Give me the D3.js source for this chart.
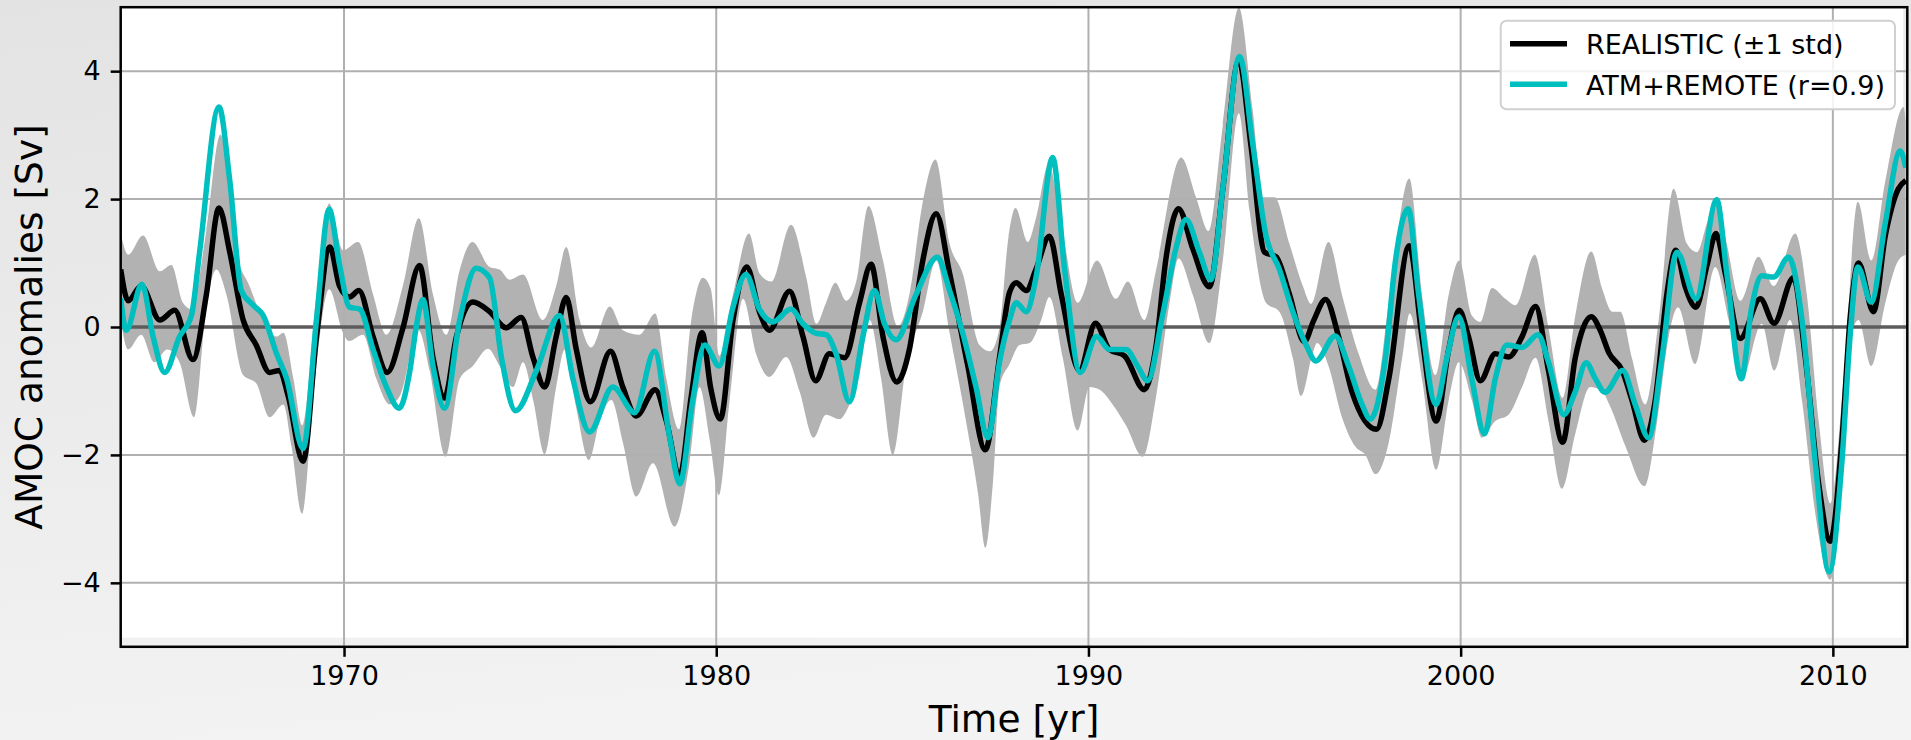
<!DOCTYPE html>
<html>
<head>
<meta charset="utf-8">
<script src="https://cdn.jsdelivr.net/npm/d3@7"></script>
<style>
  html, body { margin: 0; padding: 0; overflow: hidden; }
  svg { display: block; font-family: "DejaVu Sans", sans-serif; }
</style>
</head>
<body>
<svg id="chart" width="1911" height="740"></svg>
<script>
// ---------------- DATA ----------------
const xTicks = [1970, 1980, 1990, 2000, 2010];
const yTicks = [-4, -2, 0, 2, 4];
const seriesNames = ["REALISTIC (\u00b11 std)", "ATM+REMOTE (r=0.9)"];

// REALISTIC ensemble mean
const realTime = [1964.0,1964.2,1964.55,1965.05,1965.45,1965.94,1966.3,1966.64,1966.93,1967.29,1967.64,1968.0,1968.27,1968.5,1968.9,1969.26,1969.62,1969.88,1970.15,1970.4,1970.78,1971.16,1971.58,1972.03,1972.39,1972.7,1973.02,1973.46,1973.91,1974.36,1974.76,1975.08,1975.39,1975.7,1975.97,1976.24,1976.62,1977.16,1977.49,1977.85,1978.36,1978.66,1979.02,1979.33,1979.62,1979.85,1980.11,1980.45,1980.82,1981.16,1981.43,1981.97,1982.33,1982.67,1983.04,1983.45,1983.85,1984.16,1984.48,1984.85,1985.19,1985.55,1985.91,1986.27,1986.76,1987.23,1987.61,1987.88,1988.06,1988.33,1988.59,1988.95,1989.27,1989.76,1990.19,1990.56,1990.97,1991.5,1991.82,1992.09,1992.42,1992.8,1993.25,1993.61,1994.04,1994.37,1994.73,1995.04,1995.4,1995.8,1996.05,1996.37,1996.72,1997.08,1997.74,1998.07,1998.62,1998.96,1999.34,1999.68,1999.96,2000.21,2000.53,2000.93,2001.29,2001.65,2002.01,2002.36,2002.74,2003.08,2003.51,2003.75,2003.98,2004.34,2004.6,2004.94,2005.23,2005.54,2005.78,2006.03,2006.32,2006.62,2006.86,2007.11,2007.51,2008.05,2008.42,2008.94,2009.26,2009.62,2009.93,2010.24,2010.47,2010.69,2011.09,2011.41,2011.76,2011.96];
const realValue = [0.90,0.41,0.64,0.11,0.26,-0.51,0.5,1.86,1.17,0.11,-0.28,-0.71,-0.68,-1.08,-2.1,-0.15,1.25,0.64,0.47,0.57,-0.15,-0.71,-0.02,0.96,-0.48,-1.11,-0.15,0.39,0.24,-0.01,0.15,-0.48,-0.94,-0.15,0.46,-0.35,-1.17,-0.38,-0.94,-1.39,-0.98,-1.47,-2.33,-1.08,-0.09,-0.95,-1.44,0.11,0.94,0.24,-0.05,0.56,-0.15,-0.84,-0.42,-0.48,0.38,0.98,-0.15,-0.86,-0.35,1.04,1.77,0.84,-0.61,-1.92,-0.48,0.54,0.69,0.57,0.9,1.42,0.51,-0.68,0.06,-0.35,-0.45,-0.98,-0.28,1.1,1.85,1.23,0.63,2.16,4.17,2.82,1.17,1.1,0.51,-0.23,0.1,0.43,-0.15,-1.01,-1.6,-0.81,1.27,-0.15,-1.47,-0.35,0.26,-0.15,-0.84,-0.42,-0.47,-0.15,0.32,-0.68,-1.8,-0.48,0.16,-0.05,-0.4,-0.68,-1.14,-1.77,-1.14,0.51,1.2,0.64,0.31,0.97,1.46,0.84,-0.18,0.44,0.06,0.77,-0.48,-2.46,-3.35,-1.8,0.18,1.0,0.24,1.43,2.16,2.29];

// REALISTIC +1 std
const upperTime = [1964.0,1964.2,1964.6,1965.05,1965.36,1965.67,1965.9,1966.3,1966.68,1967.1,1967.46,1967.83,1968.19,1968.37,1968.64,1968.88,1969.26,1969.6,1969.97,1970.38,1970.78,1971.14,1971.58,1972.01,1972.39,1972.75,1973.11,1973.45,1973.91,1974.18,1974.45,1974.81,1975.34,1975.7,1975.97,1976.33,1976.64,1977.14,1977.49,1977.94,1978.36,1978.66,1979.0,1979.33,1979.64,1979.85,1980.08,1980.45,1980.88,1981.16,1981.48,1982.01,1982.42,1982.69,1982.95,1983.2,1983.49,1983.76,1984.09,1984.48,1984.88,1985.19,1985.55,1985.89,1986.27,1986.62,1987.07,1987.36,1987.61,1987.85,1988.04,1988.37,1988.59,1988.93,1989.27,1989.71,1990.23,1990.74,1991.06,1991.5,1991.82,1992.49,1992.89,1993.23,1993.61,1994.04,1994.41,1994.68,1995.0,1995.4,1995.76,1995.98,1996.45,1996.81,1997.26,1997.71,1998.07,1998.62,1998.96,1999.32,1999.68,1999.96,2000.3,2000.53,2000.84,2001.2,2001.47,2001.99,2002.36,2002.74,2003.08,2003.51,2003.8,2004.07,2004.29,2004.6,2004.96,2005.32,2005.72,2006.08,2006.35,2006.62,2006.86,2007.15,2007.51,2008.0,2008.41,2008.99,2009.3,2009.62,2009.93,2010.29,2010.67,2011.03,2011.41,2011.9,2011.96];
const upperValue = [1.46,1.13,1.43,0.87,0.97,0.38,0.28,1.5,3.01,1.17,0.64,0.11,-0.15,-0.09,-0.81,-1.54,0.51,1.93,1.2,1.33,0.51,-0.12,0.64,1.7,0.51,-0.12,0.9,1.33,0.94,0.9,0.74,0.82,0.11,0.64,1.25,0.11,-0.32,0.32,-0.05,-0.12,0.21,-0.81,-1.6,0.11,0.77,0.6,-0.45,0.51,1.46,0.84,0.71,1.6,0.77,0.05,0.38,0.69,0.41,0.71,1.89,1.04,0.01,0.51,1.96,2.62,1.3,0.84,-0.28,-0.38,-0.02,1.4,1.86,1.33,1.7,2.55,1.63,0.38,1.04,0.44,0.71,0.11,0.9,2.65,2.03,1.5,3.15,4.99,3.41,2.03,2.03,1.3,0.64,0.36,1.33,0.51,-0.42,-0.98,0.38,2.32,0.51,-0.75,0.51,1.04,0.18,0.08,0.61,0.44,0.34,1.13,-0.02,-1.11,0.18,1.18,0.6,0.24,0.24,-0.48,-1.21,0.11,2.16,1.3,1.17,1.63,2.03,1.3,0.41,1.1,0.64,1.46,0.51,-1.47,-2.76,-0.81,1.96,1.04,2.29,3.44,3.21];

// REALISTIC -1 std
const lowerTime = [1964.0,1964.2,1964.55,1964.9,1965.25,1965.58,1965.97,1966.3,1966.57,1966.84,1967.29,1967.64,1968.0,1968.37,1968.59,1968.87,1969.17,1969.6,1969.97,1970.13,1970.51,1970.87,1971.23,1971.5,1972.0,1972.3,1972.73,1973.11,1973.46,1973.87,1974.18,1974.54,1974.81,1975.08,1975.39,1975.7,1975.93,1976.24,1976.58,1976.87,1977.18,1977.49,1977.85,1978.3,1978.88,1979.28,1979.55,1979.82,1980.07,1980.36,1980.72,1981.07,1981.43,1981.88,1982.24,1982.61,1982.95,1983.31,1983.58,1983.85,1984.12,1984.43,1984.74,1985.1,1985.55,1985.91,1986.27,1986.71,1987.03,1987.23,1987.43,1987.61,1987.88,1988.15,1988.42,1988.73,1988.95,1989.31,1989.71,1990.03,1990.3,1990.65,1991.01,1991.46,1991.82,1992.18,1992.42,1992.8,1993.25,1993.61,1994.04,1994.33,1994.77,1995.13,1995.49,1995.71,1996.03,1996.14,1996.45,1996.81,1997.17,1997.44,1997.71,1998.07,1998.43,1998.63,1998.96,1999.34,1999.68,1999.95,2000.3,2000.57,2000.93,2001.29,2001.65,2002.01,2002.36,2002.72,2003.08,2003.48,2003.8,2004.0,2004.43,2004.94,2005.28,2005.59,2005.84,2006.3,2006.84,2007.2,2007.54,2008.09,2008.42,2008.85,2009.17,2009.55,2009.93,2010.29,2010.51,2010.69,2011.03,2011.41,2011.76,2011.96];
const lowerValue = [0.11,-0.35,-0.12,-0.55,-0.35,-0.55,-1.41,0.31,0.90,0.51,-0.75,-0.88,-1.41,-1.21,-1.87,-2.92,-1.14,0.59,-0.09,-0.22,-0.12,-0.81,-1.21,-1.08,-0.05,-0.68,-2.03,-0.81,-0.61,-0.34,-0.61,-0.94,-0.55,-1.14,-1.99,-0.94,-0.35,-1.27,-2.08,-1.47,-1.14,-1.8,-2.65,-2.13,-3.12,-2.13,-0.94,-1.75,-2.63,-1.14,0.44,-0.42,-0.78,-0.47,-1.01,-1.73,-1.37,-1.44,-1.21,-0.75,0.11,-0.81,-2.0,-0.61,0.24,1.04,-0.09,-1.47,-2.59,-3.45,-2.46,-0.94,-0.58,-0.28,-0.25,0.11,0.47,-0.48,-1.62,-0.94,-0.98,-1.21,-1.54,-2.03,-1.08,0.38,1.07,0.51,-0.25,1.04,3.34,1.82,0.38,0.24,-0.48,-1.08,-0.4,-0.25,-0.61,-1.41,-1.87,-2.0,-2.3,-1.8,-0.48,0.21,-0.81,-2.23,-1.14,-0.55,-1.14,-1.73,-1.47,-1.37,-0.94,-0.48,-1.47,-2.53,-1.67,-0.94,-1.0,-1.22,-1.87,-2.49,-1.47,-0.15,0.31,-0.58,0.94,0.11,-0.84,0.05,-0.68,0.11,-1.14,-3.0,-3.95,-2.13,-0.09,0.11,-0.61,0.38,1.04,1.13];

// ATM+REMOTE
const atmTime = [1964.0,1964.15,1964.57,1964.87,1965.18,1965.58,1965.9,1966.12,1966.64,1966.93,1967.24,1967.56,1967.83,1968.19,1968.46,1968.9,1969.26,1969.6,1969.88,1970.15,1970.42,1970.78,1971.14,1971.48,1971.77,1971.94,1972.12,1972.39,1972.7,1973.11,1973.55,1973.91,1974.23,1974.61,1975.17,1975.79,1976.15,1976.6,1977.22,1977.81,1978.34,1978.75,1979.02,1979.37,1979.69,1980.08,1980.45,1980.8,1981.16,1981.52,1982.01,1982.33,1982.69,1982.95,1983.22,1983.58,1983.94,1984.25,1984.52,1984.83,1985.37,1985.94,1986.27,1986.62,1986.98,1987.3,1987.61,1987.88,1988.06,1988.33,1988.59,1989.04,1989.36,1989.78,1990.22,1990.56,1991.01,1991.32,1991.59,1991.99,1992.35,1992.62,1992.98,1993.29,1993.61,1994.06,1994.41,1994.77,1995.13,1995.49,1995.85,1996.11,1996.63,1996.99,1997.35,1997.57,1997.98,1998.25,1998.59,1998.87,1999.34,1999.63,1999.95,2000.3,2000.64,2000.93,2001.24,2001.65,2002.08,2002.36,2002.77,2003.08,2003.37,2003.62,2003.88,2004.35,2004.69,2005.05,2005.41,2005.81,2006.32,2006.88,2007.15,2007.54,2007.82,2008.09,2008.41,2008.81,2009.17,2009.53,2009.9,2010.24,2010.47,2010.67,2011.03,2011.41,2011.81,2011.96];
const atmValue = [0.45,-0.05,0.67,-0.15,-0.71,-0.15,0.18,1.17,3.44,2.29,0.57,0.34,0.18,-0.42,-0.81,-1.9,0.11,1.84,0.97,0.31,0.28,-0.35,-0.94,-1.27,-0.68,0.0,0.43,-0.61,-1.27,0.11,0.92,0.77,-0.48,-1.31,-0.68,0.18,-0.81,-1.64,-0.94,-1.34,-0.38,-1.73,-2.45,-1.14,-0.28,-0.61,0.31,0.82,0.28,0.08,0.28,0.05,-0.1,-0.12,-0.42,-1.17,-0.15,0.57,0.05,-0.2,0.51,1.09,0.57,-0.09,-0.94,-1.73,-0.55,0.11,0.38,0.24,0.77,2.65,0.9,-0.71,-0.15,-0.35,-0.35,-0.61,-0.84,0.18,1.23,1.68,1.17,0.74,2.16,4.23,2.88,1.43,0.9,0.24,-0.28,-0.53,-0.14,-0.61,-1.21,-1.44,-0.48,1.04,1.85,0.51,-1.21,-0.48,0.16,-0.81,-1.67,-0.81,-0.28,-0.32,-0.12,-0.55,-1.37,-1.01,-0.56,-0.81,-1.02,-0.68,-1.21,-1.73,-0.48,1.17,0.44,1.99,0.84,-0.81,0.31,0.8,0.78,1.09,0.11,-2.13,-3.83,-2.13,-0.09,0.94,0.39,1.63,2.75,2.49];

// ---------------- LAYOUT ----------------
const W = 1911, H = 740;
const plot = { left: 120.7, right: 1907.3, top: 7.2, bottom: 646.8 };
const svg = d3.select("#chart");

const defs = svg.append("defs");
const grad = defs.append("linearGradient").attr("id", "bg").attr("x1", "0").attr("y1", "0").attr("x2", "0.25").attr("y2", "1");
grad.append("stop").attr("offset", "0").attr("stop-color", "#e3e3e3");
grad.append("stop").attr("offset", "1").attr("stop-color", "#f3f3f3");
svg.append("rect").attr("width", W).attr("height", H).attr("fill", "url(#bg)");

const x = d3.scaleLinear().domain([1964, 2012]).range([plot.left, plot.right]);
const y = d3.scaleLinear().domain([-5, 5]).range([plot.bottom, plot.top]);

// plot area (white, with thin strip at bottom/right as in reference)
svg.append("rect")
  .attr("x", plot.left).attr("y", plot.top)
  .attr("width", plot.right - plot.left - 4).attr("height", 637.7 - plot.top)
  .attr("fill", "#ffffff");

defs.append("clipPath").attr("id", "plotClip")
  .append("rect").attr("x", plot.left).attr("y", plot.top)
  .attr("width", plot.right - plot.left).attr("height", plot.bottom - plot.top);

// lower-bound clip: region above the lower std curve
const lowerPts = lowerTime.map((t, i) => [t, lowerValue[i]]);
const upperPts = upperTime.map((t, i) => [t, upperValue[i]]);
const curve = d3.curveMonotoneX;

defs.append("clipPath").attr("id", "aboveLower")
  .append("path")
  .attr("d", d3.area().curve(curve).x(d => x(d[0])).y0(plot.top - 5).y1(d => y(d[1]))(lowerPts));

const gPlot = svg.append("g").attr("clip-path", "url(#plotClip)");

// std band
gPlot.append("g").attr("clip-path", "url(#aboveLower)")
  .append("path")
  .attr("d", d3.area().curve(curve).x(d => x(d[0])).y0(plot.bottom + 5).y1(d => y(d[1]))(upperPts))
  .attr("fill", "#b2b2b2");

// grid
gPlot.append("g").selectAll("line").data(xTicks).join("line")
  .attr("x1", d => x(d)).attr("x2", d => x(d))
  .attr("y1", plot.top).attr("y2", plot.bottom)
  .attr("stroke", "#b0b0b0").attr("stroke-width", 2);
gPlot.append("g").selectAll("line").data(yTicks.filter(v => v !== 0)).join("line")
  .attr("x1", plot.left).attr("x2", plot.right)
  .attr("y1", d => y(d)).attr("y2", d => y(d))
  .attr("stroke", "#b0b0b0").attr("stroke-width", 2);

// zero line
gPlot.append("line")
  .attr("x1", plot.left).attr("x2", plot.right)
  .attr("y1", y(0)).attr("y2", y(0))
  .attr("stroke", "#5c5c5c").attr("stroke-width", 3.5);

const line = d3.line().curve(curve).x(d => x(d[0])).y(d => y(d[1]));

gPlot.append("path")
  .attr("d", line(realTime.map((t, i) => [t, realValue[i]])))
  .attr("fill", "none").attr("stroke", "#000000").attr("stroke-width", 5.5)
  .attr("stroke-linejoin", "round").attr("stroke-linecap", "butt");

gPlot.append("path")
  .attr("d", line(atmTime.map((t, i) => [t, atmValue[i]])))
  .attr("fill", "none").attr("stroke", "#00bfbf").attr("stroke-width", 5.5)
  .attr("stroke-linejoin", "round").attr("stroke-linecap", "butt");

// axes frame
svg.append("rect")
  .attr("x", plot.left).attr("y", plot.top)
  .attr("width", plot.right - plot.left).attr("height", plot.bottom - plot.top)
  .attr("fill", "none").attr("stroke", "#000").attr("stroke-width", 2.5);

// axes with d3
const xAxis = d3.axisBottom(x).tickValues(xTicks).tickFormat(d3.format("d")).tickSize(10).tickPadding(9);
const gx = svg.append("g").attr("transform", `translate(0,${plot.bottom})`).call(xAxis);
gx.select(".domain").remove();
gx.selectAll(".tick line").attr("stroke", "#000").attr("stroke-width", 2.5);
gx.selectAll(".tick text").attr("font-size", 27).attr("font-family", "DejaVu Sans").attr("fill", "#000");

const yAxis = d3.axisLeft(y).tickValues(yTicks).tickFormat(d => d < 0 ? "\u2212" + Math.abs(d) : String(d)).tickSize(10).tickPadding(10);
const gy = svg.append("g").attr("transform", `translate(${plot.left},0)`).call(yAxis);
gy.select(".domain").remove();
gy.selectAll(".tick line").attr("stroke", "#000").attr("stroke-width", 2.5);
gy.selectAll(".tick text").attr("font-size", 27).attr("font-family", "DejaVu Sans").attr("fill", "#000");

// axis labels
svg.append("text")
  .attr("x", (plot.left + plot.right) / 2).attr("y", 731.7)
  .attr("text-anchor", "middle").attr("font-size", 37.5).attr("fill", "#000")
  .text("Time [yr]");
svg.append("text")
  .attr("transform", `translate(42,${(plot.top + plot.bottom) / 2}) rotate(-90)`)
  .attr("text-anchor", "middle").attr("font-size", 37.5).attr("fill", "#000")
  .text("AMOC anomalies [Sv]");

// legend
const lg = svg.append("g");
lg.append("rect")
  .attr("x", 1500.7).attr("y", 20.7).attr("width", 394.3).attr("height", 88.6)
  .attr("rx", 6).attr("ry", 6)
  .attr("fill", "#ffffff").attr("fill-opacity", 0.85)
  .attr("stroke", "#d0d0d0").attr("stroke-width", 2);
const legendColors = ["#000000", "#00bfbf"];
const legendY = [43.8, 84.2];
seriesNames.forEach((name, i) => {
  lg.append("line")
    .attr("x1", 1510).attr("x2", 1567)
    .attr("y1", legendY[i]).attr("y2", legendY[i])
    .attr("stroke", legendColors[i]).attr("stroke-width", 5.5);
  lg.append("text")
    .attr("x", 1586).attr("y", legendY[i] + 10.3)
    .attr("font-size", 27).attr("fill", "#000")
    .text(name);
});
</script>
</body>
</html>
